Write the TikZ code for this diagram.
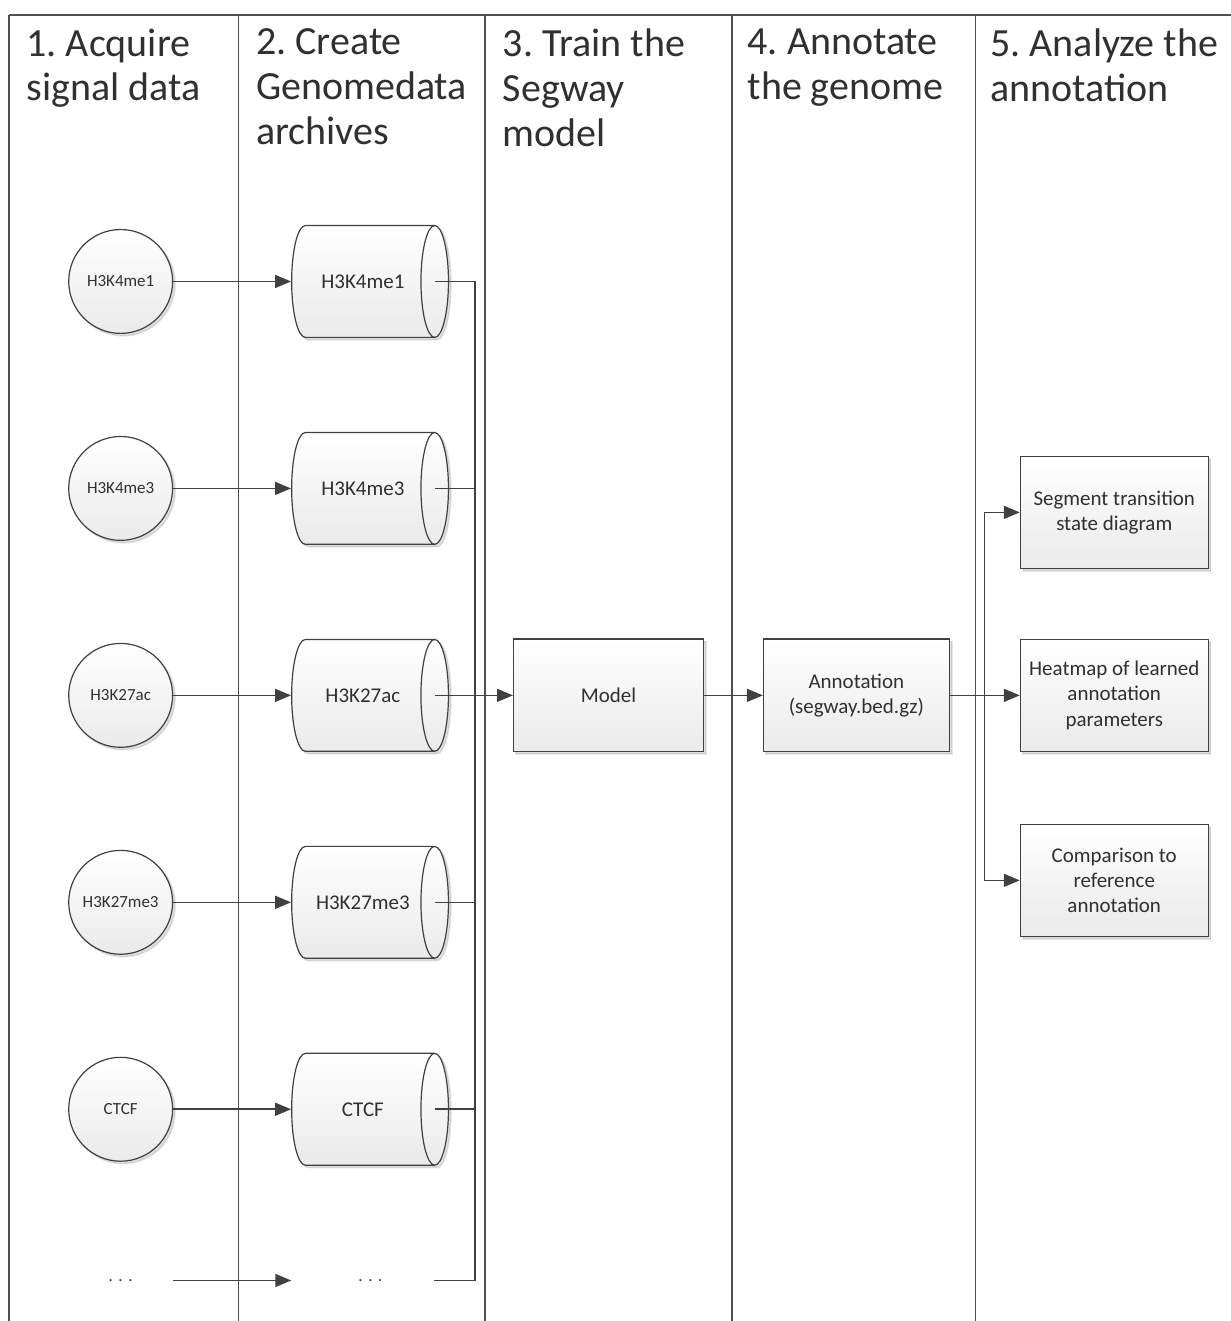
\documentclass[tikz,border=0pt]{standalone}
\usepackage{fontspec}
\setmainfont{Carlito}
\frenchspacing
\usetikzlibrary{positioning,shapes.geometric,arrows.meta,shadows}

\definecolor{linegray}{HTML}{404040}
\definecolor{lanegray}{HTML}{505050}
\definecolor{fillgray}{HTML}{EAEAEA}
\definecolor{textgray}{HTML}{303030}

\tikzset{
  lane/.style={draw=lanegray, line width=1.6pt},
  heading/.style={anchor=north west, align=left, inner sep=0pt, text=textgray, font=\fontsize{40}{45}\selectfont, execute at begin node={\rule{0pt}{30pt}}},
  softshadow/.style={drop shadow={shadow xshift=2.5pt, shadow yshift=-2.5pt, fill=black, opacity=0.12}},
  signal/.style={circle, draw=linegray, line width=1.2pt, top color=white, bottom color=fillgray, minimum size=104pt, inner sep=0pt, text=textgray, font=\fontsize{17}{20}\selectfont, softshadow},
  archive/.style={cylinder, shape aspect=2.0, draw=linegray, line width=1.2pt, top color=white, bottom color=fillgray, minimum width=112pt, minimum height=157pt, inner sep=0pt, text=textgray, font=\fontsize{21}{25}\selectfont, softshadow},
  stage/.style={rectangle, draw=linegray, line width=1.2pt, top color=white, bottom color=fillgray, minimum width=190pt, minimum height=113pt, inner sep=2pt, align=center, text=textgray, font=\fontsize{21}{25.5}\selectfont, softshadow},
  dotsmark/.style={circle, minimum size=104pt, inner sep=0pt, text=textgray, font=\fontsize{17}{20}\selectfont},
  dotsarchive/.style={rectangle, minimum width=157pt, minimum height=112pt, inner sep=0pt, text=textgray, font=\fontsize{17}{20}\selectfont},
}

\begin{document}
\begin{tikzpicture}[x=1pt,y=-1pt,>={Triangle[length=16pt,width=13pt]},every path/.style={draw=linegray,line width=1.6pt}]
    \useasboundingbox (0,0) rectangle (1230,1321);
    \fill[white] (0,0) rectangle (1230,1321);

    % swim lanes
    \draw[lane] (8,14) -- (1232,14);
    \foreach \x in {8,238,485,732,976}
        \draw[lane] (\x,14) -- (\x,1323);

    % lane headings
    \node (h1) [heading] at (25,27) {1. Acquire\\signal data};
    \node (h2) [heading] at (255,27) {2. Create\\Genomedata\\archives};
    \node (h3) [heading] at (502,27) {3. Train the\\Segway\\model};
    \node (h4) [heading] at (747,27) {4. Annotate\\the genome};
    \node (h5) [heading] at (990,27) {5. Analyze the\\annotation};

    % signal data
    \node (c1) [signal] at (120,281) {H3K4me1};
    \node (c2) [signal, below=102pt of c1] {H3K4me3};
    \node (c3) [signal, below=102pt of c2] {H3K27ac};
    \node (c4) [signal, below=102pt of c3] {H3K27me3};
    \node (c5) [signal, below=102pt of c4] {CTCF};
    \node (c6) [dotsmark, below=66pt of c5] {.\,\,.\,\,.};

    % genomedata archives
    \node (g1) [archive, right=118pt of c1] {H3K4me1};
    \node (g2) [archive, right=118pt of c2] {H3K4me3};
    \node (g3) [archive, right=118pt of c3] {H3K27ac};
    \node (g4) [archive, right=118pt of c4] {H3K27me3};
    \node (g5) [archive, right=118pt of c5] {CTCF};
    \node (g6) [dotsarchive, right=118pt of c6] {.\,\,.\,\,.};

    % model, annotation and analyses
    \node (model) [stage, right=64pt of g3] {Model};
    \node (annot) [stage, minimum width=186pt, right=59pt of model] {Annotation\\(segway.bed.gz)};
    \node (heat) [stage, minimum width=188pt, minimum height=112pt, right=70pt of annot] {Heatmap of learned\\annotation\\parameters};
    \node (trans) [stage, minimum width=188pt, minimum height=112pt, above=70pt of heat] {Segment transition\\state diagram};
    \node (comp) [stage, minimum width=188pt, minimum height=112pt, below=72pt of heat] {Comparison to\\reference\\annotation};

    \coordinate (bus) at (475,693);
    \coordinate (fork) at (985,693);

    % connect the nodes
    \foreach \i in {1,...,6}
        \draw[->] (c\i) -- (g\i);
    \draw ([xshift=-14pt]g1.east) -| (bus) |- ([xshift=-16pt]g6.east);
    \foreach \i in {2,4,5}
        \draw ([xshift=-14pt]g\i.east) -- (g\i.east -| bus);
    \draw[->] ([xshift=-14pt]g3.east) -- (model);
    \draw[->] (model) -- (annot);
    \draw[->] (annot) -- (heat);
    \draw[->] (fork) |- (trans);
    \draw[->] (fork) |- (comp);
\end{tikzpicture}
\end{document}
